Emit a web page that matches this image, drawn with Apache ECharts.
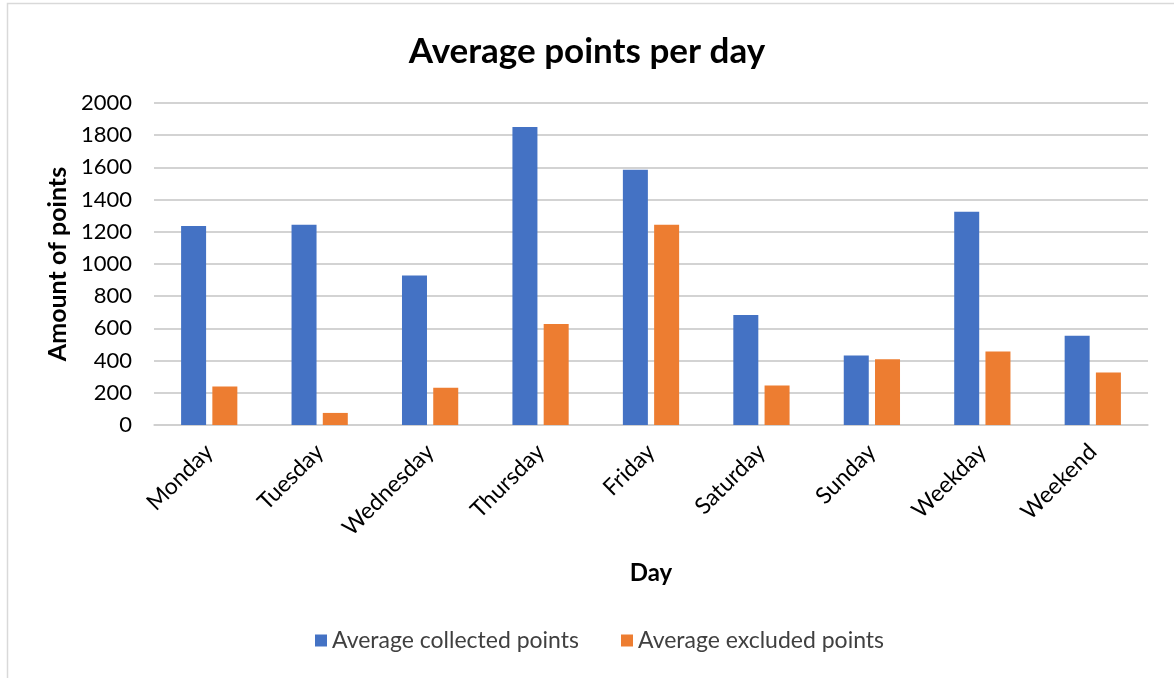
<!DOCTYPE html>
<html>
<head>
<meta charset="utf-8">
<title>Average points per day</title>
<script src="https://cdn.jsdelivr.net/npm/echarts@6/dist/echarts.min.js"></script>
<style>
  html, body { margin: 0; padding: 0; background: #fff; }
  #chart { width: 1174px; height: 678px; }
</style>
</head>
<body>
<div id="chart"></div>
<script>
const days = ['Monday', 'Tuesday', 'Wednesday', 'Thursday', 'Friday', 'Saturday', 'Sunday', 'Weekday', 'Weekend'];
const collected = [1236, 1244, 928, 1851, 1585, 683, 432, 1325, 555];
const excluded = [239, 75, 231, 627, 1244, 245, 409, 457, 326];
const yTicks = { min: 0, max: 2000, interval: 200 };

const FONT = 'Lato, "Open Sans", sans-serif';
const chart = echarts.init(document.getElementById('chart'), null, { renderer: 'canvas' });

chart.setOption({
  animation: false,
  backgroundColor: '#ffffff',
  textStyle: { fontFamily: FONT },
  graphic: [{
    type: 'rect',
    silent: true,
    shape: { x: 7.5, y: 3.5, width: 1300, height: 800 },
    style: { fill: 'none', stroke: '#d9d9d9', lineWidth: 1.5 }
  }],
  title: {
    text: 'Average points per day',
    left: 'center',
    top: 29,
    textStyle: { fontFamily: FONT, fontSize: 35, fontWeight: 'bold', color: '#000' }
  },
  legend: {
    bottom: 21,
    left: 310,
    itemWidth: 12,
    itemHeight: 12,
    itemGap: 42,
    icon: 'rect',
    textStyle: { fontFamily: FONT, fontSize: 23, color: '#404040' },
    data: ['Average collected points', 'Average excluded points']
  },
  grid: { left: 154, right: 26, top: 103, bottom: 253, containLabel: false },
  xAxis: {
    type: 'category',
    data: days,
    name: 'Day',
    nameLocation: 'middle',
    nameGap: 136,
    nameTextStyle: { fontFamily: FONT, fontSize: 24, fontWeight: 'bold', color: '#000' },
    axisLine: { lineStyle: { color: '#d0d0d0', width: 1.5 } },
    axisTick: { show: false },
    axisLabel: {
      rotate: 45,
      margin: 23,
      fontFamily: FONT,
      fontSize: 23,
      color: '#000',
      interval: 0
    }
  },
  yAxis: {
    type: 'value',
    min: yTicks.min,
    max: yTicks.max,
    interval: yTicks.interval,
    name: 'Amount of points',
    nameLocation: 'middle',
    nameGap: 82,
    nameRotate: 90,
    nameTextStyle: { fontFamily: FONT, fontSize: 25, fontWeight: 'bold', color: '#000' },
    axisLine: { show: false },
    axisTick: { show: false },
    axisLabel: {
      margin: 22,
      fontFamily: FONT,
      fontSize: 22,
      color: '#000',
      formatter: (v) => String(v)
    },
    splitLine: { lineStyle: { color: '#c4c4c4', width: 1.5 } }
  },
  series: [
    {
      name: 'Average collected points',
      type: 'bar',
      data: collected,
      barWidth: 25,
      barGap: '25%',
      itemStyle: { color: '#4472C4' }
    },
    {
      name: 'Average excluded points',
      type: 'bar',
      data: excluded,
      barWidth: 25,
      barGap: '25%',
      itemStyle: { color: '#ED7D31' }
    }
  ]
});
</script>
</body>
</html>
